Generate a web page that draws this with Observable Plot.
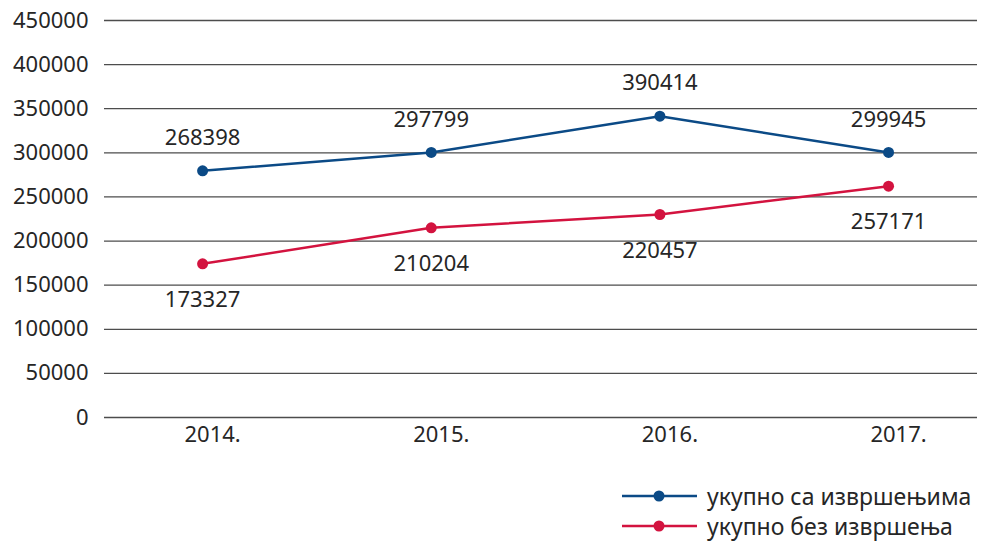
<!DOCTYPE html>
<html>
<head>
<meta charset="utf-8">
<script src="https://cdn.jsdelivr.net/npm/d3@7"></script>
<script src="https://cdn.jsdelivr.net/npm/@observablehq/plot@0.6"></script>
<style>
  body { margin: 0; background: #fff; font-family: "Noto Sans", sans-serif; }
  #legend { margin-top: 31px; padding-left: 622px; color: #262626; font-size: 23px; line-height: 30px; }
  .row { display: flex; align-items: center; height: 30px; }
  .row svg { margin-right: 10px; flex: none; }
</style>
</head>
<body>
<div id="chart"></div>
<div id="legend"></div>
<script>
const years = [2014, 2015, 2016, 2017];
const seriesNames = ["укупно са извршењима", "укупно без извршења"];
const seriesColors = ["#0b4a86", "#d3133f"];
// plotted positions
const withEnforcement = [279600, 300400, 341500, 300400];
const withoutEnforcement = [174200, 215000, 230100, 262200];
// data labels as printed in the picture
const withEnforcementLabels = ["268398", "297799", "390414", "299945"];
const withoutEnforcementLabels = ["173327", "210204", "220457", "257171"];
const yTicks = [0, 50000, 100000, 150000, 200000, 250000, 300000, 350000, 400000, 450000];

const data = [];
years.forEach((yr, i) => {
  data.push({year: yr, value: withEnforcement[i], label: withEnforcementLabels[i], series: seriesNames[0]});
  data.push({year: yr, value: withoutEnforcement[i], label: withoutEnforcementLabels[i], series: seriesNames[1]});
});

const chart = Plot.plot({
  width: 989,
  height: 450,
  marginLeft: 104,
  marginRight: 12,
  marginTop: 20,
  marginBottom: 33,
  style: {fontFamily: "Noto Sans", fontSize: "22px", color: "#262626", background: "#fff"},
  x: {type: "linear", domain: [2013.571, 2017.389]},
  y: {domain: [0, 450000]},
  color: {domain: seriesNames, range: seriesColors},
  marks: [
    Plot.ruleY(yTicks, {stroke: "#4d4d4d", strokeWidth: 1.3}),
    Plot.axisY({ticks: yTicks, tickFormat: d3.format("d"), tickSize: 0, tickPadding: 16, label: null, fontSize: 22, fill: "#262626"}),
    Plot.axisX({ticks: years, tickFormat: d => d + ".", tickSize: 0, tickPadding: 9, dx: 10, label: null, fontSize: 22, fill: "#262626"}),
    Plot.line(data, {x: "year", y: "value", z: "series", stroke: "series", strokeWidth: 2.5}),
    Plot.dot(data, {x: "year", y: "value", fill: "series", r: 5.5}),
    Plot.text(data.filter(d => d.series === seriesNames[0]), {x: "year", y: "value", text: "label", dy: -33, fontSize: 22, fill: "#262626"}),
    Plot.text(data.filter(d => d.series === seriesNames[1]), {x: "year", y: "value", text: "label", dy: 36, fontSize: 22, fill: "#262626"})
  ]
});
document.getElementById("chart").appendChild(chart);

const legend = document.getElementById("legend");
seriesNames.forEach((name, i) => {
  const row = document.createElement("div");
  row.className = "row";
  row.innerHTML = `<svg width="75" height="30"><line x1="0" x2="75" y1="15" y2="15" stroke="${seriesColors[i]}" stroke-width="2.5"/><circle cx="37" cy="15" r="5.5" fill="${seriesColors[i]}"/></svg><span>${name}</span>`;
  legend.appendChild(row);
});
</script>
</body>
</html>
